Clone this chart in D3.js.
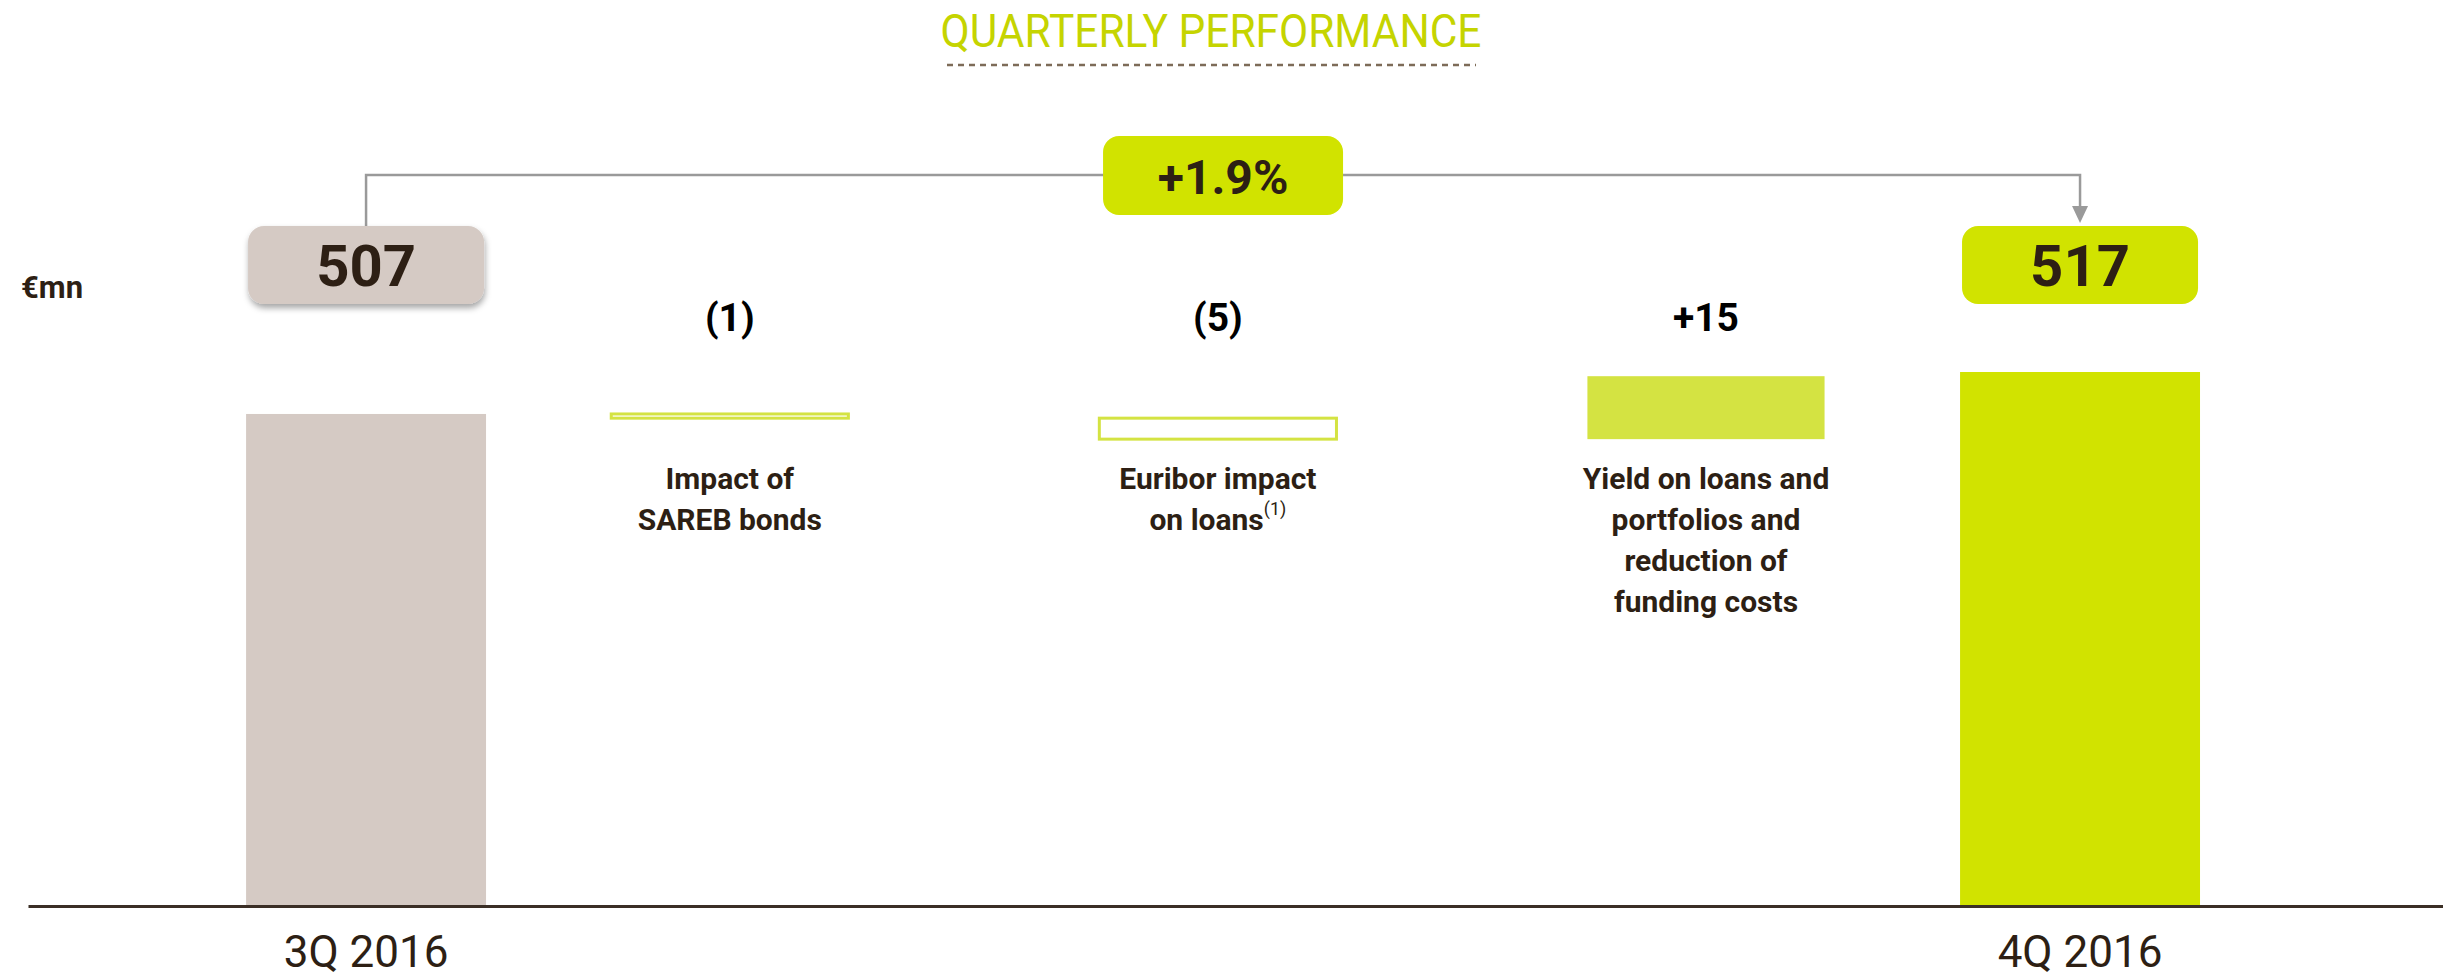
<!DOCTYPE html>
<html><head><meta charset="utf-8">
<script src="https://cdn.jsdelivr.net/npm/d3@7"></script>
<style>
html,body{margin:0;padding:0;background:#fff;}
svg{display:block;}
text{font-family:Roboto,'Noto Sans','DejaVu Sans',sans-serif;}
</style></head><body>
<svg id="chart" width="2443" height="979"></svg>
<script>
// ---- data ----
const chartTitle = "QUARTERLY PERFORMANCE";
const unitLabel = "€mn";
const totalCategories = ["3Q 2016", "4Q 2016"];
const totalValues = [507, 517];
const driverCategories = ["Impact of SAREB bonds", "Euribor impact on loans", "Yield on loans and portfolios and reduction of funding costs"];
const driverLines = [["Impact of", "SAREB bonds"], ["Euribor impact", "on loans"], ["Yield on loans and", "portfolios and", "reduction of", "funding costs"]];
const driverFootnotes = ["", "(1)", ""];
const driverValues = [-1, -5, 15];
const driverValueLabels = ["(1)", "(5)", "+15"];
const growthLabel = "+1.9%";
const axisFloor = 390;

// ---- colours ----
const C = {
  title: "#c5d400", dash: "#7d6b58", dark: "#2d1f14", beige: "#d5cac4",
  lime: "#d1e300", limeLight: "#d4e342", grey: "#9a9a9a", axis: "#3b2f26"
};

const svg = d3.select("#chart");
const W = 2443, axisY = 906;

// defs: drop shadow
const defs = svg.append("defs");
const f = defs.append("filter").attr("id", "shadow").attr("x", "-10%").attr("y", "-20%").attr("width", "130%").attr("height", "160%");
f.append("feDropShadow").attr("dx", 1).attr("dy", 4).attr("stdDeviation", 3).attr("flood-color", "#000").attr("flood-opacity", 0.35);

// scales
const y = d3.scaleLinear().domain([axisFloor, d3.max(totalValues)]).range([axisY - 1, 372]);
const xTotal = d3.scaleBand().domain(totalCategories).range([28, W])
  .paddingInner(0.86).paddingOuter(0.1345).align(0.473);
const bw = xTotal.bandwidth();
const xDriver = d3.scaleBand().domain(driverCategories)
  .range([xTotal(totalCategories[0]) + bw, xTotal(totalCategories[1])])
  .paddingInner(0.508).paddingOuter(0.264).align(0.48);
const dbw = xDriver.bandwidth();

// title
svg.append("text").attr("x", 1211).attr("y", 47).attr("text-anchor", "middle")
  .attr("font-size", 46).attr("fill", C.title)
  .attr("textLength", 541).attr("lengthAdjust", "spacingAndGlyphs")
  .text(chartTitle);
svg.append("line").attr("x1", 947).attr("x2", 1476).attr("y1", 65).attr("y2", 65)
  .attr("stroke", C.dash).attr("stroke-width", 2.5).attr("stroke-dasharray", "6,5");

// unit label
svg.append("text").attr("x", 21).attr("y", 298).attr("font-size", 31).attr("font-weight", 700)
  .attr("fill", C.dark).text(unitLabel);

// total bars
svg.selectAll("rect.total").data(totalCategories).join("rect").attr("class", "total")
  .attr("x", d => xTotal(d)).attr("width", bw)
  .attr("y", (d, i) => y(totalValues[i]))
  .attr("height", (d, i) => y(axisFloor) - y(totalValues[i]))
  .attr("fill", (d, i) => i === 0 ? C.beige : C.lime);

// driver bars (waterfall)
let cum = totalValues[0];
const steps = driverValues.map(v => { const s = { start: cum, end: cum + v, v }; cum += v; return s; });
svg.selectAll("rect.driver").data(steps).join("rect").attr("class", "driver")
  .attr("x", (d, i) => xDriver(driverCategories[i]) + 1.5).attr("width", dbw - 3)
  .attr("y", d => y(Math.max(d.start, d.end)))
  .attr("height", d => Math.abs(y(d.start) - y(d.end)))
  .attr("fill", d => d.v < 0 ? "#fff" : C.limeLight)
  .attr("stroke", d => d.v < 0 ? C.limeLight : "none")
  .attr("stroke-width", 3);

// driver value labels
svg.selectAll("text.dval").data(driverValueLabels).join("text").attr("class", "dval")
  .attr("x", (d, i) => xDriver(driverCategories[i]) + dbw / 2).attr("y", 331)
  .attr("text-anchor", "middle").attr("font-size", 39).attr("font-weight", 700).attr("fill", "#000")
  .text(d => d);

// driver category labels
driverLines.forEach((lines, i) => {
  const t = svg.append("text").attr("text-anchor", "middle").attr("font-size", 30).attr("font-weight", 700)
    .attr("fill", C.dark);
  const cx = xDriver(driverCategories[i]) + dbw / 2;
  lines.forEach((ln, j) => {
    const ts = t.append("tspan").attr("x", cx).attr("y", 489 + j * 41).text(ln);
    if (j === lines.length - 1 && driverFootnotes[i]) {
      ts.append("tspan").attr("font-size", 18).attr("font-weight", 400).attr("dy", -15).text(driverFootnotes[i]);
    }
  });
});

// connector
const cx0 = xTotal(totalCategories[0]) + bw / 2, cx1 = xTotal(totalCategories[1]) + bw / 2;
const boxTop = 226, boxH = 78, boxW = 236;
svg.append("path").attr("d", `M${cx0},${boxTop} V175 H${cx1} V209`)
  .attr("fill", "none").attr("stroke", C.grey).attr("stroke-width", 2.5);
svg.append("path").attr("d", `M${cx1 - 8},206 L${cx1 + 8},206 L${cx1},${boxTop - 3} Z`).attr("fill", C.grey);

// growth box
const gcx = (cx0 + cx1) / 2;
svg.append("rect").attr("x", gcx - 120).attr("y", 136).attr("width", 240).attr("height", 79).attr("rx", 16)
  .attr("fill", C.lime);
svg.append("text").attr("x", gcx).attr("y", 194).attr("text-anchor", "middle").attr("font-size", 48)
  .attr("font-weight", 700).attr("fill", C.dark).text(growthLabel);

// total value boxes
totalCategories.forEach((c, i) => {
  const cx = xTotal(c) + bw / 2;
  svg.append("rect").attr("x", cx - boxW / 2).attr("y", boxTop).attr("width", boxW).attr("height", boxH).attr("rx", 16)
    .attr("fill", i === 0 ? C.beige : C.lime).attr("filter", i === 0 ? "url(#shadow)" : null);
  svg.append("text").attr("x", cx).attr("y", boxTop + boxH / 2 + 21).attr("text-anchor", "middle")
    .attr("font-size", 58).attr("font-weight", 700).attr("fill", C.dark).text(totalValues[i]);
});

// axis
const ax = svg.append("g").attr("transform", `translate(0,${axisY})`)
  .call(d3.axisBottom(xTotal).tickSize(0).tickSizeOuter(0).tickPadding(30));
ax.select(".domain").attr("stroke", C.axis).attr("stroke-width", 3);
ax.selectAll("text").attr("font-size", 44).attr("fill", C.dark).attr("font-family", "Roboto, 'Noto Sans', sans-serif");
</script>
</body></html>
